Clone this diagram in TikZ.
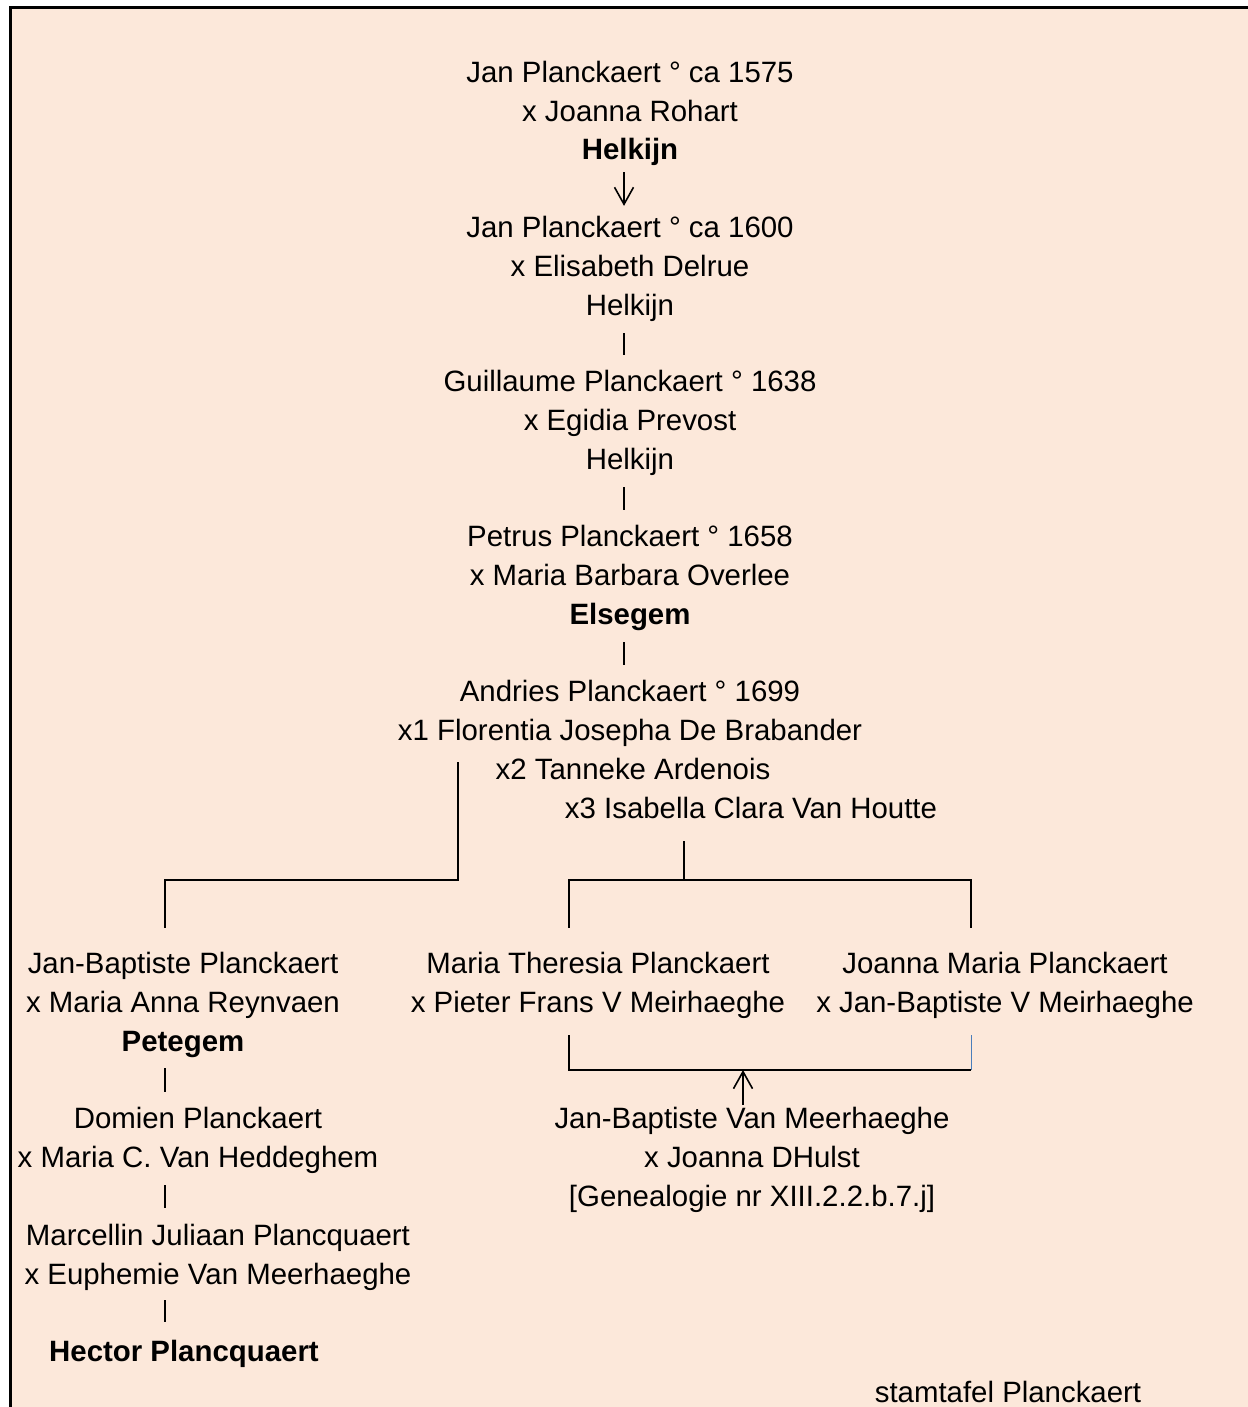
\documentclass[tikz,border=0pt]{standalone}
\usepackage{fontspec}
\setmainfont{Liberation Sans}
\usetikzlibrary{arrows.meta}
\definecolor{perkament}{RGB}{252,232,218}
\definecolor{lijnblauw}{RGB}{74,126,187}
\tikzset{
  persoon/.style={align=center,inner sep=0pt,anchor=base,font=\fontsize{29.4}{38.8}\selectfont},
  tak/.style={line width=1.6pt},
  pijl/.style={tak,-{Straight Barb[length=17pt,width=19pt]}}
}

\begin{document}
\begin{tikzpicture}[x=1pt,y=-1pt]
    \useasboundingbox (0,0) rectangle (1247,1407);
    \fill [perkament] (10,8) rectangle (1252,1412);
    \draw [line width=3pt] (10,1412) -- (10,8) -- (1252,8);
    %% stam (y = basislijn van de laatste regel)
    \node [persoon] (jan1) at (630,160) {Jan Planckaert ° ca 1575\\x Joanna Rohart\\\textbf{Helkijn}};
    \node [persoon] (jan2) at (630,315) {Jan Planckaert ° ca 1600\\x Elisabeth Delrue\\Helkijn};
    \node [persoon] (guillaume) at (630,469) {Guillaume Planckaert ° 1638\\x Egidia Prevost\\Helkijn};
    \node [persoon] (petrus) at (630,624) {Petrus Planckaert ° 1658\\x Maria Barbara Overlee\\\textbf{Elsegem}};
    \node [persoon] (andries) at (630,740) {Andries Planckaert ° 1699\\x1 Florentia Josepha De Brabander};
    \node [persoon] (x2) at (633,779) {x2 Tanneke Ardenois};
    \node [persoon] (x3) at (751,818) {x3 Isabella Clara Van Houtte};
    %% kinderen
    \node [persoon] (janbaptiste) at (183,1051) {Jan-Baptiste Planckaert\\x Maria Anna Reynvaen\\\textbf{Petegem}};
    \node [persoon] (mariatheresia) at (598,1012) {Maria Theresia Planckaert\\x Pieter Frans V Meirhaeghe};
    \node [persoon] (joannamaria) at (1005,1012) {Joanna Maria Planckaert\\x Jan-Baptiste V Meirhaeghe};
    %% linkertak
    \node [persoon] (domien) at (198,1167) {Domien Planckaert\\x Maria C. Van Heddeghem};
    \node [persoon] (marcellin) at (218,1284) {Marcellin Juliaan Plancquaert\\x Euphemie Van Meerhaeghe};
    \node [persoon] (hector) at (184,1361) {\textbf{Hector Plancquaert}};
    %% rechtertak
    \node [persoon] (vanmeerhaeghe) at (752,1206) {Jan-Baptiste Van Meerhaeghe\\x Joanna DHulst\\{[Genealogie nr XIII.2.2.b.7.j]}};
    \node [persoon] (stamtafel) at (1008,1402) {stamtafel Planckaert};
    %% verbindingen
    \coordinate (midden) at (624,0);
    \coordinate (links) at (165,0);
    \coordinate (splitsL) at (458,880);
    \coordinate (splitsR) at (684,880);
    \coordinate (takA) at (569,880);
    \coordinate (takB) at (971,880);
    \coordinate (huwA) at (569,1070);
    \coordinate (huwB) at (971,1070);
    \coordinate (huwM) at (743,1070);
    \draw [pijl] ([yshift=-6pt]jan1.south -| midden) -- ([yshift=10pt]jan2.north -| midden);
    \draw [tak] ([yshift=-12pt]jan2.south -| midden) -- ([yshift=15pt]guillaume.north -| midden);
    \draw [tak] ([yshift=-12pt]guillaume.south -| midden) -- ([yshift=15pt]petrus.north -| midden);
    \draw [tak] ([yshift=-12pt]petrus.south -| midden) -- ([yshift=15pt]andries.north -| midden);
    \draw [tak] ([yshift=-16pt]andries.south -| splitsL) -- (splitsL) -| ([yshift=24pt]janbaptiste.north -| links);
    \draw [tak] ([yshift=-23pt]x3.south -| splitsR) -- (splitsR);
    \draw [tak] ([yshift=24pt]mariatheresia.north -| takA) -- (takA) -- (takB) -- ([yshift=24pt]joannamaria.north -| takB);
    \draw [tak] ([yshift=-17pt]mariatheresia.south -| huwA) -- (huwA) -- (huwB);
    \draw [lijnblauw,line width=1pt] (huwB) -- ([yshift=-17pt]joannamaria.south -| huwB);
    \draw [pijl] ([yshift=2pt]vanmeerhaeghe.north -| huwM) -- (huwM);
    \draw [tak] ([yshift=-11pt]janbaptiste.south -| links) -- ([yshift=15pt]domien.north -| links);
    \draw [tak] ([yshift=-12pt]domien.south -| links) -- ([yshift=16pt]marcellin.north -| links);
    \draw [tak] ([yshift=-10pt]marcellin.south -| links) -- ([yshift=18pt]hector.north -| links);
\end{tikzpicture}
\end{document}
